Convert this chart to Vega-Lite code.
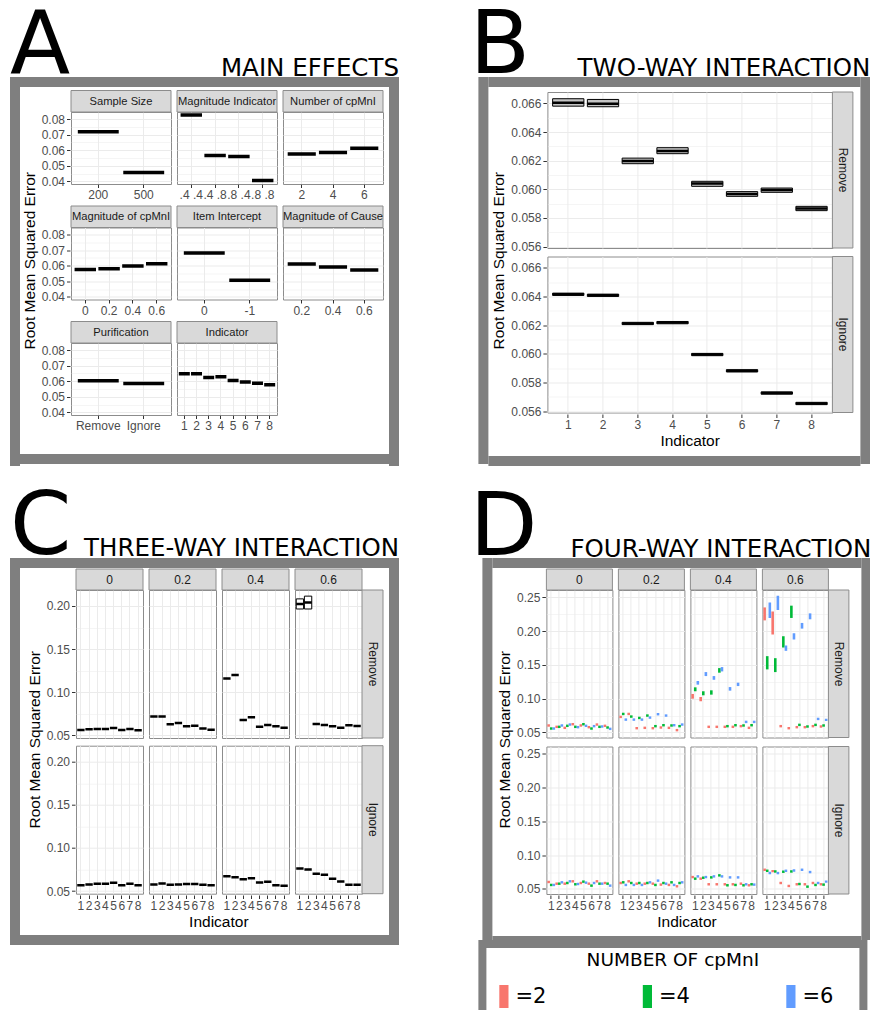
{
 "$schema": "https://vega.github.io/schema/vega-lite/v6.json",
 "background": "white",
 "padding": {"left": 10, "top": 2, "right": 0, "bottom": 0},
 "config": {
  "font": "Liberation Sans",
  "view": {"stroke": "#8c8c8c", "strokeWidth": 1},
  "axis": {"labelColor": "#4d4d4d", "labelFontSize": 12, "labelFont": "Liberation Sans", "tickColor": "#333333", "tickSize": 3.5, "tickWidth": 1, "domain": false, "gridColor": "#ebebeb", "gridWidth": 1, "labelPadding": 2},
  "text": {"font": "Liberation Sans"}
 },
 "datasets": {
  "A": [
   {"f":"Sample Size","lvl":"200","m":0.0718},
   {"f":"Sample Size","lvl":"500","m":0.0456},
   {"f":"Magnitude Indicator","lvl":".4 .4","m":0.0826},
   {"f":"Magnitude Indicator","lvl":".4 .8","m":0.0566},
   {"f":"Magnitude Indicator","lvl":".8 .4","m":0.0559},
   {"f":"Magnitude Indicator","lvl":".8 .8","m":0.0406},
   {"f":"Number of cpMnI","lvl":"2","m":0.0576},
   {"f":"Number of cpMnI","lvl":"4","m":0.0585},
   {"f":"Number of cpMnI","lvl":"6","m":0.0613},
   {"f":"Magnitude of cpMnI","lvl":"0","m":0.0576},
   {"f":"Magnitude of cpMnI","lvl":"0.2","m":0.0581},
   {"f":"Magnitude of cpMnI","lvl":"0.4","m":0.0598},
   {"f":"Magnitude of cpMnI","lvl":"0.6","m":0.0613},
   {"f":"Item Intercept","lvl":"0","m":0.0681},
   {"f":"Item Intercept","lvl":"-1","m":0.0507},
   {"f":"Magnitude of Cause","lvl":"0.2","m":0.0610},
   {"f":"Magnitude of Cause","lvl":"0.4","m":0.0591},
   {"f":"Magnitude of Cause","lvl":"0.6","m":0.0572},
   {"f":"Purification","lvl":"Remove","m":0.0602},
   {"f":"Purification","lvl":"Ignore","m":0.0585},
   {"f":"Indicator","lvl":"1","m":0.0648},
   {"f":"Indicator","lvl":"2","m":0.0648},
   {"f":"Indicator","lvl":"3","m":0.0624},
   {"f":"Indicator","lvl":"4","m":0.0629},
   {"f":"Indicator","lvl":"5","m":0.0605},
   {"f":"Indicator","lvl":"6","m":0.0594},
   {"f":"Indicator","lvl":"7","m":0.0587},
   {"f":"Indicator","lvl":"8","m":0.0577}
  ],
  "B": [
   {"p":"Remove","i":1,"m":0.06605,"lo":0.06581,"hi":0.06633},
   {"p":"Remove","i":2,"m":0.06598,"lo":0.06577,"hi":0.06628},
   {"p":"Remove","i":3,"m":0.06198,"lo":0.06179,"hi":0.06218},
   {"p":"Remove","i":4,"m":0.06267,"lo":0.06249,"hi":0.06291},
   {"p":"Remove","i":5,"m":0.0604,"lo":0.06021,"hi":0.06056},
   {"p":"Remove","i":6,"m":0.05967,"lo":0.05951,"hi":0.05984},
   {"p":"Remove","i":7,"m":0.05995,"lo":0.05979,"hi":0.06009},
   {"p":"Remove","i":8,"m":0.05866,"lo":0.05851,"hi":0.05881},
   {"p":"Ignore","i":1,"m":0.06416,"lo":0.06408,"hi":0.06424},
   {"p":"Ignore","i":2,"m":0.06409,"lo":0.06401,"hi":0.06417},
   {"p":"Ignore","i":3,"m":0.06212,"lo":0.06204,"hi":0.0622},
   {"p":"Ignore","i":4,"m":0.06218,"lo":0.0621,"hi":0.06226},
   {"p":"Ignore","i":5,"m":0.05995,"lo":0.05987,"hi":0.06003},
   {"p":"Ignore","i":6,"m":0.05881,"lo":0.05873,"hi":0.05889},
   {"p":"Ignore","i":7,"m":0.05726,"lo":0.05718,"hi":0.05734},
   {"p":"Ignore","i":8,"m":0.05653,"lo":0.05645,"hi":0.05661}
  ],
  "C": [
   {"c":"0","p":"Remove","i":1,"m":0.0562},{"c":"0","p":"Remove","i":2,"m":0.057},{"c":"0","p":"Remove","i":3,"m":0.0575},{"c":"0","p":"Remove","i":4,"m":0.0575},
   {"c":"0","p":"Remove","i":5,"m":0.0585},{"c":"0","p":"Remove","i":6,"m":0.0562},{"c":"0","p":"Remove","i":7,"m":0.0575},{"c":"0","p":"Remove","i":8,"m":0.056},
   {"c":"0.2","p":"Remove","i":1,"m":0.072},{"c":"0.2","p":"Remove","i":2,"m":0.072},{"c":"0.2","p":"Remove","i":3,"m":0.063},{"c":"0.2","p":"Remove","i":4,"m":0.0645},
   {"c":"0.2","p":"Remove","i":5,"m":0.0605},{"c":"0.2","p":"Remove","i":6,"m":0.0613},{"c":"0.2","p":"Remove","i":7,"m":0.058},{"c":"0.2","p":"Remove","i":8,"m":0.0565},
   {"c":"0.4","p":"Remove","i":1,"m":0.116},{"c":"0.4","p":"Remove","i":2,"m":0.12},{"c":"0.4","p":"Remove","i":3,"m":0.068},{"c":"0.4","p":"Remove","i":4,"m":0.071},
   {"c":"0.4","p":"Remove","i":5,"m":0.06},{"c":"0.4","p":"Remove","i":6,"m":0.062},{"c":"0.4","p":"Remove","i":7,"m":0.0605},{"c":"0.4","p":"Remove","i":8,"m":0.059},
   {"c":"0.6","p":"Remove","i":1,"m":0.2023,"lo":0.1965,"hi":0.2082},{"c":"0.6","p":"Remove","i":2,"m":0.2039,"lo":0.1965,"hi":0.2114},{"c":"0.6","p":"Remove","i":3,"m":0.0633},{"c":"0.6","p":"Remove","i":4,"m":0.062},
   {"c":"0.6","p":"Remove","i":5,"m":0.0605},{"c":"0.6","p":"Remove","i":6,"m":0.059},{"c":"0.6","p":"Remove","i":7,"m":0.0617},{"c":"0.6","p":"Remove","i":8,"m":0.061},
   {"c":"0","p":"Ignore","i":1,"m":0.0569},{"c":"0","p":"Ignore","i":2,"m":0.0577},{"c":"0","p":"Ignore","i":3,"m":0.0585},{"c":"0","p":"Ignore","i":4,"m":0.0585},
   {"c":"0","p":"Ignore","i":5,"m":0.0597},{"c":"0","p":"Ignore","i":6,"m":0.0569},{"c":"0","p":"Ignore","i":7,"m":0.0585},{"c":"0","p":"Ignore","i":8,"m":0.0569},
   {"c":"0.2","p":"Ignore","i":1,"m":0.0577},{"c":"0.2","p":"Ignore","i":2,"m":0.0589},{"c":"0.2","p":"Ignore","i":3,"m":0.0573},{"c":"0.2","p":"Ignore","i":4,"m":0.0577},
   {"c":"0.2","p":"Ignore","i":5,"m":0.0581},{"c":"0.2","p":"Ignore","i":6,"m":0.0581},{"c":"0.2","p":"Ignore","i":7,"m":0.0573},{"c":"0.2","p":"Ignore","i":8,"m":0.0569},
   {"c":"0.4","p":"Ignore","i":1,"m":0.0673},{"c":"0.4","p":"Ignore","i":2,"m":0.0662},{"c":"0.4","p":"Ignore","i":3,"m":0.0638},{"c":"0.4","p":"Ignore","i":4,"m":0.065},
   {"c":"0.4","p":"Ignore","i":5,"m":0.06},{"c":"0.4","p":"Ignore","i":6,"m":0.0608},{"c":"0.4","p":"Ignore","i":7,"m":0.0569},{"c":"0.4","p":"Ignore","i":8,"m":0.0562},
   {"c":"0.6","p":"Ignore","i":1,"m":0.0762},{"c":"0.6","p":"Ignore","i":2,"m":0.075},{"c":"0.6","p":"Ignore","i":3,"m":0.0701},{"c":"0.6","p":"Ignore","i":4,"m":0.0689},
   {"c":"0.6","p":"Ignore","i":5,"m":0.0643},{"c":"0.6","p":"Ignore","i":6,"m":0.0612},{"c":"0.6","p":"Ignore","i":7,"m":0.0574},{"c":"0.6","p":"Ignore","i":8,"m":0.0574}
  ],
  "D": [
   {"c":"0","p":"Remove","i":1,"n":"2","lo":0.0585,"hi":0.0621},{"c":"0","p":"Remove","i":1,"n":"4","lo":0.054,"hi":0.0576},{"c":"0","p":"Remove","i":1,"n":"6","lo":0.054,"hi":0.0576},
   {"c":"0","p":"Remove","i":2,"n":"2","lo":0.0565,"hi":0.0601},{"c":"0","p":"Remove","i":2,"n":"4","lo":0.0565,"hi":0.0601},{"c":"0","p":"Remove","i":2,"n":"6","lo":0.0585,"hi":0.0621},
   {"c":"0","p":"Remove","i":3,"n":"2","lo":0.055,"hi":0.0586},{"c":"0","p":"Remove","i":3,"n":"4","lo":0.058,"hi":0.0616},{"c":"0","p":"Remove","i":3,"n":"6","lo":0.0599,"hi":0.0635},
   {"c":"0","p":"Remove","i":4,"n":"2","lo":0.0604,"hi":0.064},{"c":"0","p":"Remove","i":4,"n":"4","lo":0.0565,"hi":0.0601},{"c":"0","p":"Remove","i":4,"n":"6","lo":0.056,"hi":0.0596},
   {"c":"0","p":"Remove","i":5,"n":"2","lo":0.0585,"hi":0.0621},{"c":"0","p":"Remove","i":5,"n":"4","lo":0.0604,"hi":0.064},{"c":"0","p":"Remove","i":5,"n":"6","lo":0.058,"hi":0.0616},
   {"c":"0","p":"Remove","i":6,"n":"2","lo":0.056,"hi":0.0596},{"c":"0","p":"Remove","i":6,"n":"4","lo":0.054,"hi":0.0576},{"c":"0","p":"Remove","i":6,"n":"6","lo":0.0575,"hi":0.0611},
   {"c":"0","p":"Remove","i":7,"n":"2","lo":0.0599,"hi":0.0635},{"c":"0","p":"Remove","i":7,"n":"4","lo":0.0565,"hi":0.0601},{"c":"0","p":"Remove","i":7,"n":"6","lo":0.057,"hi":0.0606},
   {"c":"0","p":"Remove","i":8,"n":"2","lo":0.058,"hi":0.0616},{"c":"0","p":"Remove","i":8,"n":"4","lo":0.0555,"hi":0.0591},{"c":"0","p":"Remove","i":8,"n":"6","lo":0.0535,"hi":0.0571},
   {"c":"0.2","p":"Remove","i":1,"n":"2","lo":0.0712,"hi":0.0748},{"c":"0.2","p":"Remove","i":1,"n":"4","lo":0.0756,"hi":0.0792},{"c":"0.2","p":"Remove","i":1,"n":"6","lo":0.0672,"hi":0.0708},
   {"c":"0.2","p":"Remove","i":2,"n":"2","lo":0.0756,"hi":0.0792},{"c":"0.2","p":"Remove","i":2,"n":"4","lo":0.0717,"hi":0.0753},{"c":"0.2","p":"Remove","i":2,"n":"6","lo":0.0672,"hi":0.0708},
   {"c":"0.2","p":"Remove","i":3,"n":"2","lo":0.0545,"hi":0.0581},{"c":"0.2","p":"Remove","i":3,"n":"4","lo":0.0697,"hi":0.0733},{"c":"0.2","p":"Remove","i":3,"n":"6","lo":0.0672,"hi":0.0708},
   {"c":"0.2","p":"Remove","i":4,"n":"2","lo":0.055,"hi":0.0586},{"c":"0.2","p":"Remove","i":4,"n":"4","lo":0.0732,"hi":0.0768},{"c":"0.2","p":"Remove","i":4,"n":"6","lo":0.0702,"hi":0.0738},
   {"c":"0.2","p":"Remove","i":5,"n":"2","lo":0.0545,"hi":0.0581},{"c":"0.2","p":"Remove","i":5,"n":"4","lo":0.0575,"hi":0.0611},{"c":"0.2","p":"Remove","i":5,"n":"6","lo":0.0752,"hi":0.0788},
   {"c":"0.2","p":"Remove","i":6,"n":"2","lo":0.0555,"hi":0.0591},{"c":"0.2","p":"Remove","i":6,"n":"4","lo":0.0589,"hi":0.0625},{"c":"0.2","p":"Remove","i":6,"n":"6","lo":0.0732,"hi":0.0768},
   {"c":"0.2","p":"Remove","i":7,"n":"2","lo":0.055,"hi":0.0586},{"c":"0.2","p":"Remove","i":7,"n":"4","lo":0.0585,"hi":0.0621},{"c":"0.2","p":"Remove","i":7,"n":"6","lo":0.0589,"hi":0.0625},
   {"c":"0.2","p":"Remove","i":8,"n":"2","lo":0.0516,"hi":0.0552},{"c":"0.2","p":"Remove","i":8,"n":"4","lo":0.0575,"hi":0.0611},{"c":"0.2","p":"Remove","i":8,"n":"6","lo":0.0599,"hi":0.0635},
   {"c":"0.4","p":"Remove","i":1,"n":"2","lo":0.1,"hi":0.107},{"c":"0.4","p":"Remove","i":1,"n":"4","lo":0.111,"hi":0.1168},{"c":"0.4","p":"Remove","i":1,"n":"6","lo":0.1208,"hi":0.1262},
   {"c":"0.4","p":"Remove","i":2,"n":"2","lo":0.0962,"hi":0.1025},{"c":"0.4","p":"Remove","i":2,"n":"4","lo":0.105,"hi":0.111},{"c":"0.4","p":"Remove","i":2,"n":"6","lo":0.1335,"hi":0.1394},
   {"c":"0.4","p":"Remove","i":3,"n":"2","lo":0.0565,"hi":0.0601},{"c":"0.4","p":"Remove","i":3,"n":"4","lo":0.106,"hi":0.1124},{"c":"0.4","p":"Remove","i":3,"n":"6","lo":0.128,"hi":0.1335},
   {"c":"0.4","p":"Remove","i":4,"n":"2","lo":0.0565,"hi":0.0601},{"c":"0.4","p":"Remove","i":4,"n":"4","lo":0.1385,"hi":0.1453},{"c":"0.4","p":"Remove","i":4,"n":"6","lo":0.1404,"hi":0.1468},
   {"c":"0.4","p":"Remove","i":5,"n":"2","lo":0.0565,"hi":0.0601},{"c":"0.4","p":"Remove","i":5,"n":"4","lo":0.0575,"hi":0.0611},{"c":"0.4","p":"Remove","i":5,"n":"6","lo":0.1119,"hi":0.1172},
   {"c":"0.4","p":"Remove","i":6,"n":"2","lo":0.0565,"hi":0.0601},{"c":"0.4","p":"Remove","i":6,"n":"4","lo":0.0589,"hi":0.0625},{"c":"0.4","p":"Remove","i":6,"n":"6","lo":0.1187,"hi":0.1237},
   {"c":"0.4","p":"Remove","i":7,"n":"2","lo":0.0575,"hi":0.0611},{"c":"0.4","p":"Remove","i":7,"n":"4","lo":0.0585,"hi":0.0621},{"c":"0.4","p":"Remove","i":7,"n":"6","lo":0.0638,"hi":0.0674},
   {"c":"0.4","p":"Remove","i":8,"n":"2","lo":0.055,"hi":0.0586},{"c":"0.4","p":"Remove","i":8,"n":"4","lo":0.0589,"hi":0.0625},{"c":"0.4","p":"Remove","i":8,"n":"6","lo":0.0638,"hi":0.0674},
   {"c":"0.6","p":"Remove","i":1,"n":"2","lo":0.216,"hi":0.2352},{"c":"0.6","p":"Remove","i":1,"n":"4","lo":0.1434,"hi":0.163},{"c":"0.6","p":"Remove","i":1,"n":"6","lo":0.2196,"hi":0.2426},
   {"c":"0.6","p":"Remove","i":2,"n":"2","lo":0.195,"hi":0.2293},{"c":"0.6","p":"Remove","i":2,"n":"4","lo":0.1394,"hi":0.16},{"c":"0.6","p":"Remove","i":2,"n":"6","lo":0.2314,"hi":0.2525},
   {"c":"0.6","p":"Remove","i":3,"n":"2","lo":0.0575,"hi":0.0611},{"c":"0.6","p":"Remove","i":3,"n":"4","lo":0.1758,"hi":0.1925},{"c":"0.6","p":"Remove","i":3,"n":"6","lo":0.1709,"hi":0.1788},
   {"c":"0.6","p":"Remove","i":4,"n":"2","lo":0.0545,"hi":0.0581},{"c":"0.6","p":"Remove","i":4,"n":"4","lo":0.2196,"hi":0.2378},{"c":"0.6","p":"Remove","i":4,"n":"6","lo":0.1876,"hi":0.1969},
   {"c":"0.6","p":"Remove","i":5,"n":"2","lo":0.056,"hi":0.0596},{"c":"0.6","p":"Remove","i":5,"n":"4","lo":0.0594,"hi":0.063},{"c":"0.6","p":"Remove","i":5,"n":"6","lo":0.2038,"hi":0.2122},
   {"c":"0.6","p":"Remove","i":6,"n":"2","lo":0.056,"hi":0.0596},{"c":"0.6","p":"Remove","i":6,"n":"4","lo":0.057,"hi":0.0606},{"c":"0.6","p":"Remove","i":6,"n":"6","lo":0.2176,"hi":0.2264},
   {"c":"0.6","p":"Remove","i":7,"n":"2","lo":0.0575,"hi":0.0611},{"c":"0.6","p":"Remove","i":7,"n":"4","lo":0.0594,"hi":0.063},{"c":"0.6","p":"Remove","i":7,"n":"6","lo":0.0682,"hi":0.0718},
   {"c":"0.6","p":"Remove","i":8,"n":"2","lo":0.057,"hi":0.0606},{"c":"0.6","p":"Remove","i":8,"n":"4","lo":0.0585,"hi":0.0621},{"c":"0.6","p":"Remove","i":8,"n":"6","lo":0.0668,"hi":0.0704},
   {"c":"0","p":"Ignore","i":1,"n":"2","lo":0.0585,"hi":0.0621},{"c":"0","p":"Ignore","i":1,"n":"4","lo":0.0541,"hi":0.0577},{"c":"0","p":"Ignore","i":1,"n":"6","lo":0.0541,"hi":0.0577},
   {"c":"0","p":"Ignore","i":2,"n":"2","lo":0.056,"hi":0.0596},{"c":"0","p":"Ignore","i":2,"n":"4","lo":0.056,"hi":0.0596},{"c":"0","p":"Ignore","i":2,"n":"6","lo":0.058,"hi":0.0616},
   {"c":"0","p":"Ignore","i":3,"n":"2","lo":0.056,"hi":0.0596},{"c":"0","p":"Ignore","i":3,"n":"4","lo":0.057,"hi":0.0606},{"c":"0","p":"Ignore","i":3,"n":"6","lo":0.0595,"hi":0.0631},
   {"c":"0","p":"Ignore","i":4,"n":"2","lo":0.0595,"hi":0.0631},{"c":"0","p":"Ignore","i":4,"n":"4","lo":0.0551,"hi":0.0587},{"c":"0","p":"Ignore","i":4,"n":"6","lo":0.0555,"hi":0.0591},
   {"c":"0","p":"Ignore","i":5,"n":"2","lo":0.057,"hi":0.0606},{"c":"0","p":"Ignore","i":5,"n":"4","lo":0.059,"hi":0.0626},{"c":"0","p":"Ignore","i":5,"n":"6","lo":0.0575,"hi":0.0611},
   {"c":"0","p":"Ignore","i":6,"n":"2","lo":0.056,"hi":0.0596},{"c":"0","p":"Ignore","i":6,"n":"4","lo":0.0531,"hi":0.0567},{"c":"0","p":"Ignore","i":6,"n":"6","lo":0.057,"hi":0.0606},
   {"c":"0","p":"Ignore","i":7,"n":"2","lo":0.0595,"hi":0.0631},{"c":"0","p":"Ignore","i":7,"n":"4","lo":0.056,"hi":0.0596},{"c":"0","p":"Ignore","i":7,"n":"6","lo":0.056,"hi":0.0596},
   {"c":"0","p":"Ignore","i":8,"n":"2","lo":0.057,"hi":0.0606},{"c":"0","p":"Ignore","i":8,"n":"4","lo":0.056,"hi":0.0596},{"c":"0","p":"Ignore","i":8,"n":"6","lo":0.0531,"hi":0.0567},
   {"c":"0.2","p":"Ignore","i":1,"n":"2","lo":0.057,"hi":0.0606},{"c":"0.2","p":"Ignore","i":1,"n":"4","lo":0.058,"hi":0.0616},{"c":"0.2","p":"Ignore","i":1,"n":"6","lo":0.0541,"hi":0.0577},
   {"c":"0.2","p":"Ignore","i":2,"n":"2","lo":0.0595,"hi":0.0631},{"c":"0.2","p":"Ignore","i":2,"n":"4","lo":0.057,"hi":0.0606},{"c":"0.2","p":"Ignore","i":2,"n":"6","lo":0.0541,"hi":0.0577},
   {"c":"0.2","p":"Ignore","i":3,"n":"2","lo":0.056,"hi":0.0596},{"c":"0.2","p":"Ignore","i":3,"n":"4","lo":0.057,"hi":0.0606},{"c":"0.2","p":"Ignore","i":3,"n":"6","lo":0.0541,"hi":0.0577},
   {"c":"0.2","p":"Ignore","i":4,"n":"2","lo":0.056,"hi":0.0596},{"c":"0.2","p":"Ignore","i":4,"n":"4","lo":0.057,"hi":0.0606},{"c":"0.2","p":"Ignore","i":4,"n":"6","lo":0.058,"hi":0.0616},
   {"c":"0.2","p":"Ignore","i":5,"n":"2","lo":0.056,"hi":0.0596},{"c":"0.2","p":"Ignore","i":5,"n":"4","lo":0.0541,"hi":0.0577},{"c":"0.2","p":"Ignore","i":5,"n":"6","lo":0.0605,"hi":0.0641},
   {"c":"0.2","p":"Ignore","i":6,"n":"2","lo":0.0546,"hi":0.0582},{"c":"0.2","p":"Ignore","i":6,"n":"4","lo":0.057,"hi":0.0606},{"c":"0.2","p":"Ignore","i":6,"n":"6","lo":0.056,"hi":0.0596},
   {"c":"0.2","p":"Ignore","i":7,"n":"2","lo":0.0541,"hi":0.0577},{"c":"0.2","p":"Ignore","i":7,"n":"4","lo":0.058,"hi":0.0616},{"c":"0.2","p":"Ignore","i":7,"n":"6","lo":0.0541,"hi":0.0577},
   {"c":"0.2","p":"Ignore","i":8,"n":"2","lo":0.0521,"hi":0.0557},{"c":"0.2","p":"Ignore","i":8,"n":"4","lo":0.057,"hi":0.0606},{"c":"0.2","p":"Ignore","i":8,"n":"6","lo":0.058,"hi":0.0616},
   {"c":"0.4","p":"Ignore","i":1,"n":"2","lo":0.0658,"hi":0.0694},{"c":"0.4","p":"Ignore","i":1,"n":"4","lo":0.0634,"hi":0.067},{"c":"0.4","p":"Ignore","i":1,"n":"6","lo":0.0668,"hi":0.0704},
   {"c":"0.4","p":"Ignore","i":2,"n":"2","lo":0.0634,"hi":0.067},{"c":"0.4","p":"Ignore","i":2,"n":"4","lo":0.0648,"hi":0.0684},{"c":"0.4","p":"Ignore","i":2,"n":"6","lo":0.0658,"hi":0.0694},
   {"c":"0.4","p":"Ignore","i":3,"n":"2","lo":0.0551,"hi":0.0587},{"c":"0.4","p":"Ignore","i":3,"n":"4","lo":0.0653,"hi":0.0689},{"c":"0.4","p":"Ignore","i":3,"n":"6","lo":0.0668,"hi":0.0704},
   {"c":"0.4","p":"Ignore","i":4,"n":"2","lo":0.0551,"hi":0.0587},{"c":"0.4","p":"Ignore","i":4,"n":"4","lo":0.0683,"hi":0.0719},{"c":"0.4","p":"Ignore","i":4,"n":"6","lo":0.0668,"hi":0.0704},
   {"c":"0.4","p":"Ignore","i":5,"n":"2","lo":0.0551,"hi":0.0587},{"c":"0.4","p":"Ignore","i":5,"n":"4","lo":0.0536,"hi":0.0572},{"c":"0.4","p":"Ignore","i":5,"n":"6","lo":0.0653,"hi":0.0689},
   {"c":"0.4","p":"Ignore","i":6,"n":"2","lo":0.0551,"hi":0.0587},{"c":"0.4","p":"Ignore","i":6,"n":"4","lo":0.0541,"hi":0.0577},{"c":"0.4","p":"Ignore","i":6,"n":"6","lo":0.0653,"hi":0.0689},
   {"c":"0.4","p":"Ignore","i":7,"n":"2","lo":0.056,"hi":0.0596},{"c":"0.4","p":"Ignore","i":7,"n":"4","lo":0.0536,"hi":0.0572},{"c":"0.4","p":"Ignore","i":7,"n":"6","lo":0.0551,"hi":0.0587},
   {"c":"0.4","p":"Ignore","i":8,"n":"2","lo":0.0536,"hi":0.0572},{"c":"0.4","p":"Ignore","i":8,"n":"4","lo":0.0551,"hi":0.0587},{"c":"0.4","p":"Ignore","i":8,"n":"6","lo":0.0546,"hi":0.0582},
   {"c":"0.6","p":"Ignore","i":1,"n":"2","lo":0.0766,"hi":0.0802},{"c":"0.6","p":"Ignore","i":1,"n":"4","lo":0.0751,"hi":0.0787},{"c":"0.6","p":"Ignore","i":1,"n":"6","lo":0.0717,"hi":0.0753},
   {"c":"0.6","p":"Ignore","i":2,"n":"2","lo":0.0746,"hi":0.0782},{"c":"0.6","p":"Ignore","i":2,"n":"4","lo":0.0741,"hi":0.0777},{"c":"0.6","p":"Ignore","i":2,"n":"6","lo":0.0717,"hi":0.0753},
   {"c":"0.6","p":"Ignore","i":3,"n":"2","lo":0.057,"hi":0.0606},{"c":"0.6","p":"Ignore","i":3,"n":"4","lo":0.0737,"hi":0.0773},{"c":"0.6","p":"Ignore","i":3,"n":"6","lo":0.0751,"hi":0.0787},
   {"c":"0.6","p":"Ignore","i":4,"n":"2","lo":0.0526,"hi":0.0562},{"c":"0.6","p":"Ignore","i":4,"n":"4","lo":0.0741,"hi":0.0777},{"c":"0.6","p":"Ignore","i":4,"n":"6","lo":0.0756,"hi":0.0792},
   {"c":"0.6","p":"Ignore","i":5,"n":"2","lo":0.0551,"hi":0.0587},{"c":"0.6","p":"Ignore","i":5,"n":"4","lo":0.0555,"hi":0.0591},{"c":"0.6","p":"Ignore","i":5,"n":"6","lo":0.0766,"hi":0.0802},
   {"c":"0.6","p":"Ignore","i":6,"n":"2","lo":0.0551,"hi":0.0587},{"c":"0.6","p":"Ignore","i":6,"n":"4","lo":0.0516,"hi":0.0552},{"c":"0.6","p":"Ignore","i":6,"n":"6","lo":0.0732,"hi":0.0768},
   {"c":"0.6","p":"Ignore","i":7,"n":"2","lo":0.057,"hi":0.0606},{"c":"0.6","p":"Ignore","i":7,"n":"4","lo":0.0541,"hi":0.0577},{"c":"0.6","p":"Ignore","i":7,"n":"6","lo":0.057,"hi":0.0606},
   {"c":"0.6","p":"Ignore","i":8,"n":"2","lo":0.0551,"hi":0.0587},{"c":"0.6","p":"Ignore","i":8,"n":"4","lo":0.0546,"hi":0.0582},{"c":"0.6","p":"Ignore","i":8,"n":"6","lo":0.059,"hi":0.0626}
  ],
  "L": [{"n":"2","lab":"=2"},{"n":"4","lab":"=4"},{"n":"6","lab":"=6"}]
 },
 "spacing": 17,
 "vconcat": [
  {"spacing": 70.4, "hconcat": [
   {"title": {"text": "A", "anchor": "start", "font": "DejaVu Sans", "fontSize": 88, "fontWeight": "normal", "color": "black", "offset": -35},
    "vconcat": [{
     "title": {"text": "MAIN EFFECTS", "anchor": "end", "font": "DejaVu Sans", "fontSize": 24.5, "fontWeight": "normal", "color": "black", "offset": -4},
     "spacing": 0,
     "hconcat": [
      {"width": 10, "height": 389, "data": {"values": []}, "mark": "rect", "encoding": {}, "view": {"fill": "#7f7f7f", "stroke": null}},
      {"spacing": 0, "vconcat": [
       {"width": 369, "height": 10, "data": {"values": []}, "mark": "rect", "encoding": {}, "view": {"fill": "#7f7f7f", "stroke": null}},
       {"width": 1, "height": 1.5, "data": {"values": []}, "mark": "rect", "encoding": {}, "view": {"stroke": null}},
       {"spacing": 0, "hconcat": [
        {"width": 2, "height": 1, "data": {"values": []}, "mark": "rect", "encoding": {}, "view": {"stroke": null}},
        {"title": {"text": "Root Mean Squared Error", "orient": "left", "anchor": "middle", "font": "Liberation Sans", "fontSize": 15.5, "fontWeight": "normal", "color": "black", "offset": 3},
         "vconcat": [{
          "data": {"name": "A"},
          "facet": {"field": "f", "type": "nominal", "sort": ["Sample Size","Magnitude Indicator","Number of cpMnI","Magnitude of cpMnI","Item Intercept","Magnitude of Cause","Purification","Indicator"], "header": {"title": null, "labels": false, "labelExpr": "''", "labelPadding": 0, "labelFontSize": 0.01}},
          "columns": 3,
          "spacing": {"row": 3.5, "column": 4},
          "resolve": {"scale": {"x": "independent"}},
          "spec": {
           "width": 100, "height": 72,
           "layer": [
            {"transform": [{"aggregate": [{"op": "count", "as": "cnt"}], "groupby": ["f"]}],
             "mark": {"type": "rect", "fill": "#d9d9d9", "stroke": "#8c8c8c", "strokeWidth": 1},
             "encoding": {"x": {"value": 0}, "x2": {"value": 100}, "y": {"value": -21.5}, "y2": {"value": 0}}},
            {"transform": [{"aggregate": [{"op": "count", "as": "cnt"}], "groupby": ["f"]}],
             "mark": {"type": "text", "fontSize": 11.2, "color": "#1a1a1a", "align": "center", "baseline": "middle"},
             "encoding": {"text": {"field": "f"}, "x": {"value": 50}, "y": {"value": -10.5}}},
            {"mark": {"type": "bar", "fill": "black", "stroke": "black", "strokeWidth": 3.5, "width": {"band": 0.9}},
             "encoding": {
              "x": {"field": "lvl", "type": "nominal", "sort": null, "scale": {"paddingInner": 0, "paddingOuter": 0.1}, "axis": {"title": null, "bandPosition": 0.5, "grid": true, "labelAngle": 0}},
              "y": {"field": "m", "type": "quantitative", "scale": {"domain": [0.0383, 0.0845], "nice": false, "zero": false},
                    "axis": {"title": null, "grid": true, "values": [0.04,0.045,0.05,0.055,0.06,0.065,0.07,0.075,0.08],
                             "labelExpr": "round(datum.value*1000) % 10 == 0 ? format(datum.value, '.2f') : ''",
                             "tickOpacity": {"condition": {"test": "round(datum.value*1000) % 10 != 0", "value": 0}, "value": 1},
                             "gridWidth": {"condition": {"test": "round(datum.value*1000) % 10 != 0", "value": 0.5}, "value": 1}}},
              "y2": {"field": "m"}}}
           ]
          }
         }]
        }
       ]},
       {"width": 1, "height": 22, "data": {"values": []}, "mark": "rect", "encoding": {}, "view": {"stroke": null}},
       {"width": 369, "height": 10, "data": {"values": []}, "mark": "rect", "encoding": {}, "view": {"fill": "#7f7f7f", "stroke": null}}
      ]},
      {"width": 10, "height": 389, "data": {"values": []}, "mark": "rect", "encoding": {}, "view": {"fill": "#7f7f7f", "stroke": null}}
     ]
    }]
   },
   {"title": {"text": "B", "anchor": "start", "font": "DejaVu Sans", "fontSize": 88, "fontWeight": "normal", "color": "black", "offset": -35, "dx": -8.6},
    "vconcat": [{
     "title": {"text": "TWO-WAY INTERACTION", "anchor": "end", "font": "DejaVu Sans", "fontSize": 24.5, "fontWeight": "normal", "color": "black", "offset": -4},
     "spacing": 0,
     "hconcat": [
      {"width": 10, "height": 387, "data": {"values": []}, "mark": "rect", "encoding": {}, "view": {"fill": "#7f7f7f", "stroke": null}},
      {"spacing": 0, "vconcat": [
       {"width": 372, "height": 10, "data": {"values": []}, "mark": "rect", "encoding": {}, "view": {"fill": "#7f7f7f", "stroke": null}},
       {"width": 1, "height": 3.2, "data": {"values": []}, "mark": "rect", "encoding": {}, "view": {"stroke": null}},
       {"spacing": 0, "hconcat": [
        {"width": 3, "height": 1, "data": {"values": []}, "mark": "rect", "encoding": {}, "view": {"stroke": null}},
        {"title": {"text": "Indicator", "orient": "bottom", "anchor": "middle", "font": "Liberation Sans", "fontSize": 15.5, "fontWeight": "normal", "color": "black", "offset": 3, "dx": 17},
         "vconcat": [{
          "title": {"text": "Root Mean Squared Error", "orient": "left", "anchor": "middle", "font": "Liberation Sans", "fontSize": 15.5, "fontWeight": "normal", "color": "black", "offset": 3},
          "vconcat": [{
           "data": {"name": "B"},
           "facet": {"row": {"field": "p", "type": "nominal", "sort": ["Remove", "Ignore"], "header": {"title": null, "labels": false, "labelExpr": "''", "labelPadding": 0, "labelFontSize": 0.01}}},
           "spacing": 6.5,
           "spec": {
            "width": 285, "height": 156,
            "layer": [
             {"transform": [{"aggregate": [{"op": "count", "as": "cnt"}], "groupby": ["p"]}],
              "mark": {"type": "rect", "fill": "#d9d9d9", "stroke": "#8c8c8c", "strokeWidth": 1},
              "encoding": {"x": {"value": 285}, "x2": {"value": 305.5}, "y": {"value": 0}, "y2": {"value": 156}}},
             {"transform": [{"aggregate": [{"op": "count", "as": "cnt"}], "groupby": ["p"]}],
              "mark": {"type": "text", "angle": 90, "fontSize": 12, "color": "#1a1a1a", "align": "center", "baseline": "middle"},
              "encoding": {"text": {"field": "p"}, "x": {"value": 295.5}, "y": {"value": 78}}},
             {"mark": {"type": "bar", "fill": "#c4c4c4", "stroke": "black", "strokeWidth": 1, "width": {"band": 0.9}},
              "encoding": {
               "x": {"field": "i", "type": "nominal", "scale": {"paddingInner": 0, "paddingOuter": 0.1}, "axis": {"title": null, "bandPosition": 0.5, "grid": true, "labelAngle": 0}},
               "y": {"field": "lo", "type": "quantitative", "scale": {"domain": [0.0559, 0.0668], "nice": false, "zero": false},
                     "axis": {"title": null, "grid": true, "values": [0.056,0.057,0.058,0.059,0.06,0.061,0.062,0.063,0.064,0.065,0.066],
                              "labelExpr": "round(datum.value*10000) % 20 == 0 ? format(datum.value, '.3f') : ''",
                              "tickOpacity": {"condition": {"test": "round(datum.value*10000) % 20 != 0", "value": 0}, "value": 1},
                              "gridWidth": {"condition": {"test": "round(datum.value*10000) % 20 != 0", "value": 0.5}, "value": 1}}},
               "y2": {"field": "hi"}}},
             {"mark": {"type": "bar", "fill": "black", "stroke": "black", "strokeWidth": 2.5, "width": {"band": 0.9}},
              "encoding": {
               "x": {"field": "i", "type": "nominal", "scale": {"paddingInner": 0, "paddingOuter": 0.1}, "axis": {"title": null, "bandPosition": 0.5, "grid": true, "labelAngle": 0}},
               "y": {"field": "m", "type": "quantitative",
                     "axis": {"title": null, "grid": true, "values": [0.056,0.057,0.058,0.059,0.06,0.061,0.062,0.063,0.064,0.065,0.066],
                              "labelExpr": "round(datum.value*10000) % 20 == 0 ? format(datum.value, '.3f') : ''",
                              "tickOpacity": {"condition": {"test": "round(datum.value*10000) % 20 != 0", "value": 0}, "value": 1},
                              "gridWidth": {"condition": {"test": "round(datum.value*10000) % 20 != 0", "value": 0.5}, "value": 1}}},
               "y2": {"field": "m"}}}
            ]
           }
          }]
         }]
        }
       ]},
       {"width": 1, "height": 6.8, "data": {"values": []}, "mark": "rect", "encoding": {}, "view": {"stroke": null}},
       {"width": 372, "height": 10, "data": {"values": []}, "mark": "rect", "encoding": {}, "view": {"fill": "#7f7f7f", "stroke": null}}
      ]},
      {"width": 10, "height": 387, "data": {"values": []}, "mark": "rect", "encoding": {}, "view": {"fill": "#7f7f7f", "stroke": null}}
     ]
    }]
   }
  ]},
  {"spacing": 70.4, "hconcat": [
   {"title": {"text": "C", "anchor": "start", "font": "DejaVu Sans", "fontSize": 88, "fontWeight": "normal", "color": "black", "offset": -36},
    "vconcat": [{
     "title": {"text": "THREE-WAY INTERACTION", "anchor": "end", "font": "DejaVu Sans", "fontSize": 24.5, "fontWeight": "normal", "color": "black", "offset": -3},
     "spacing": 0,
     "hconcat": [
      {"width": 10, "height": 387, "data": {"values": []}, "mark": "rect", "encoding": {}, "view": {"fill": "#7f7f7f", "stroke": null}},
      {"spacing": 0, "vconcat": [
       {"width": 369, "height": 10, "data": {"values": []}, "mark": "rect", "encoding": {}, "view": {"fill": "#7f7f7f", "stroke": null}},
       {"spacing": 0, "hconcat": [
        {"width": 7, "height": 1, "data": {"values": []}, "mark": "rect", "encoding": {}, "view": {"stroke": null}},
        {"title": {"text": "Indicator", "orient": "bottom", "anchor": "middle", "font": "Liberation Sans", "fontSize": 15.5, "fontWeight": "normal", "color": "black", "offset": 3, "dx": 13},
         "vconcat": [{
          "title": {"text": "Root Mean Squared Error", "orient": "left", "anchor": "middle", "font": "Liberation Sans", "fontSize": 15.5, "fontWeight": "normal", "color": "black", "offset": 3},
          "vconcat": [{
           "data": {"name": "C"},
           "facet": {
            "row": {"field": "p", "type": "nominal", "sort": ["Remove", "Ignore"], "header": {"title": null, "labels": false, "labelExpr": "''", "labelPadding": 0, "labelFontSize": 0.01}},
            "column": {"field": "c", "type": "nominal", "sort": ["0", "0.2", "0.4", "0.6"], "header": {"title": null, "labels": false, "labelExpr": "''", "labelPadding": 0, "labelFontSize": 0.01}}
           },
           "align": "each",
           "spacing": {"row": 5.7, "column": 4},
           "spec": {
            "width": 67, "height": 148,
            "layer": [
             {"transform": [{"filter": "datum.p == 'Remove'"}, {"aggregate": [{"op": "count", "as": "cnt"}], "groupby": ["c", "p"]}],
              "mark": {"type": "rect", "fill": "#d9d9d9", "stroke": "#8c8c8c", "strokeWidth": 1},
              "encoding": {"x": {"value": 0}, "x2": {"value": 67}, "y": {"value": -21}, "y2": {"value": 0}}},
             {"transform": [{"filter": "datum.p == 'Remove'"}, {"aggregate": [{"op": "count", "as": "cnt"}], "groupby": ["c", "p"]}],
              "mark": {"type": "text", "fontSize": 12, "color": "#1a1a1a", "align": "center", "baseline": "middle"},
              "encoding": {"text": {"field": "c"}, "x": {"value": 33.5}, "y": {"value": -10.5}}},
             {"transform": [{"filter": "datum.c == '0.6'"}, {"aggregate": [{"op": "count", "as": "cnt"}], "groupby": ["c", "p"]}],
              "mark": {"type": "rect", "fill": "#d9d9d9", "stroke": "#8c8c8c", "strokeWidth": 1},
              "encoding": {"x": {"value": 67}, "x2": {"value": 88}, "y": {"value": 0}, "y2": {"value": 148}}},
             {"transform": [{"filter": "datum.c == '0.6'"}, {"aggregate": [{"op": "count", "as": "cnt"}], "groupby": ["c", "p"]}],
              "mark": {"type": "text", "angle": 90, "fontSize": 12, "color": "#1a1a1a", "align": "center", "baseline": "middle"},
              "encoding": {"text": {"field": "p"}, "x": {"value": 77.5}, "y": {"value": 74}}},
             {"mark": {"type": "bar", "fill": "white", "stroke": "black", "strokeWidth": 1, "width": {"band": 0.9}},
              "encoding": {
               "x": {"field": "i", "type": "nominal", "scale": {"paddingInner": 0, "paddingOuter": 0.1}, "axis": {"title": null, "bandPosition": 0.5, "grid": true, "labelAngle": 0}},
               "y": {"field": "lo", "type": "quantitative", "scale": {"domain": [0.047, 0.2185], "nice": false, "zero": false},
                     "axis": {"title": null, "grid": true, "values": [0.05,0.075,0.1,0.125,0.15,0.175,0.2],
                              "labelExpr": "round(datum.value*1000) % 50 == 0 ? format(datum.value, '.2f') : ''",
                              "tickOpacity": {"condition": {"test": "round(datum.value*1000) % 50 != 0", "value": 0}, "value": 1},
                              "gridWidth": {"condition": {"test": "round(datum.value*1000) % 50 != 0", "value": 0.5}, "value": 1}}},
               "y2": {"field": "hi"}}},
             {"mark": {"type": "bar", "fill": "black", "stroke": "black", "strokeWidth": 2.5, "width": {"band": 0.9}},
              "encoding": {
               "x": {"field": "i", "type": "nominal", "scale": {"paddingInner": 0, "paddingOuter": 0.1}, "axis": {"title": null, "bandPosition": 0.5, "grid": true, "labelAngle": 0}},
               "y": {"field": "m", "type": "quantitative",
                     "axis": {"title": null, "grid": true, "values": [0.05,0.075,0.1,0.125,0.15,0.175,0.2],
                              "labelExpr": "round(datum.value*1000) % 50 == 0 ? format(datum.value, '.2f') : ''",
                              "tickOpacity": {"condition": {"test": "round(datum.value*1000) % 50 != 0", "value": 0}, "value": 1},
                              "gridWidth": {"condition": {"test": "round(datum.value*1000) % 50 != 0", "value": 0.5}, "value": 1}}},
               "y2": {"field": "m"}}}
            ]
           }
          }]
         }]
        }
       ]},
       {"width": 1, "height": 4.8, "data": {"values": []}, "mark": "rect", "encoding": {}, "view": {"stroke": null}},
       {"width": 369, "height": 10, "data": {"values": []}, "mark": "rect", "encoding": {}, "view": {"fill": "#7f7f7f", "stroke": null}}
      ]},
      {"width": 10, "height": 387, "data": {"values": []}, "mark": "rect", "encoding": {}, "view": {"fill": "#7f7f7f", "stroke": null}}
     ]
    }]
   },
   {"title": {"text": "D", "anchor": "start", "font": "DejaVu Sans", "fontSize": 88, "fontWeight": "normal", "color": "black", "offset": -36, "dx": -8.6},
    "vconcat": [{
     "title": {"text": "FOUR-WAY INTERACTION", "anchor": "end", "font": "DejaVu Sans", "fontSize": 24.5, "fontWeight": "normal", "color": "black", "offset": -4},
     "spacing": 0,
     "vconcat": [
      {"spacing": 0, "hconcat": [
       {"width": 10, "height": 382, "data": {"values": []}, "mark": "rect", "encoding": {}, "view": {"fill": "#7f7f7f", "stroke": null}},
       {"spacing": 0, "vconcat": [
        {"width": 369, "height": 10, "data": {"values": []}, "mark": "rect", "encoding": {}, "view": {"fill": "#7f7f7f", "stroke": null}},
        {"spacing": 0, "hconcat": [
         {"width": 5, "height": 1, "data": {"values": []}, "mark": "rect", "encoding": {}, "view": {"stroke": null}},
         {"title": {"text": "Indicator", "orient": "bottom", "anchor": "middle", "font": "Liberation Sans", "fontSize": 15.5, "fontWeight": "normal", "color": "black", "offset": 3, "dx": 13},
          "vconcat": [{
           "title": {"text": "Root Mean Squared Error", "orient": "left", "anchor": "middle", "font": "Liberation Sans", "fontSize": 15.5, "fontWeight": "normal", "color": "black", "offset": 3},
           "vconcat": [{
            "data": {"name": "D"},
            "facet": {
             "row": {"field": "p", "type": "nominal", "sort": ["Remove", "Ignore"], "header": {"title": null, "labels": false, "labelExpr": "''", "labelPadding": 0, "labelFontSize": 0.01}},
             "column": {"field": "c", "type": "nominal", "sort": ["0", "0.2", "0.4", "0.6"], "header": {"title": null, "labels": false, "labelExpr": "''", "labelPadding": 0, "labelFontSize": 0.01}}
            },
            "align": "each",
            "spacing": {"row": 6.5, "column": 4},
            "spec": {
             "width": 66, "height": 147.5,
             "layer": [
              {"transform": [{"filter": "datum.p == 'Remove'"}, {"aggregate": [{"op": "count", "as": "cnt"}], "groupby": ["c", "p"]}],
               "mark": {"type": "rect", "fill": "#d9d9d9", "stroke": "#8c8c8c", "strokeWidth": 1},
               "encoding": {"x": {"value": 0}, "x2": {"value": 66}, "y": {"value": -21}, "y2": {"value": 0}}},
              {"transform": [{"filter": "datum.p == 'Remove'"}, {"aggregate": [{"op": "count", "as": "cnt"}], "groupby": ["c", "p"]}],
               "mark": {"type": "text", "fontSize": 12, "color": "#1a1a1a", "align": "center", "baseline": "middle"},
               "encoding": {"text": {"field": "c"}, "x": {"value": 33}, "y": {"value": -10.5}}},
              {"transform": [{"filter": "datum.c == '0.6'"}, {"aggregate": [{"op": "count", "as": "cnt"}], "groupby": ["c", "p"]}],
               "mark": {"type": "rect", "fill": "#d9d9d9", "stroke": "#8c8c8c", "strokeWidth": 1},
               "encoding": {"x": {"value": 66}, "x2": {"value": 86.5}, "y": {"value": 0}, "y2": {"value": 147.5}}},
              {"transform": [{"filter": "datum.c == '0.6'"}, {"aggregate": [{"op": "count", "as": "cnt"}], "groupby": ["c", "p"]}],
               "mark": {"type": "text", "angle": 90, "fontSize": 12, "color": "#1a1a1a", "align": "center", "baseline": "middle"},
               "encoding": {"text": {"field": "p"}, "x": {"value": 76.5}, "y": {"value": 74}}},
              {"mark": {"type": "bar", "width": {"band": 1}},
               "encoding": {
                "x": {"field": "i", "type": "nominal", "scale": {"paddingInner": 0, "paddingOuter": 0.1}, "axis": {"title": null, "bandPosition": 0.5, "grid": true, "labelAngle": 0}},
                "xOffset": {"field": "n", "type": "nominal", "scale": {"paddingInner": 0, "paddingOuter": 0.05}},
                "y": {"field": "lo", "type": "quantitative", "scale": {"domain": [0.0425, 0.261], "nice": false, "zero": false},
                      "axis": {"title": null, "grid": true, "values": [0.05,0.075,0.1,0.125,0.15,0.175,0.2,0.225,0.25],
                               "labelExpr": "round(datum.value*1000) % 50 == 0 ? format(datum.value, '.2f') : ''",
                               "tickOpacity": {"condition": {"test": "round(datum.value*1000) % 50 != 0", "value": 0}, "value": 1},
                               "gridWidth": {"condition": {"test": "round(datum.value*1000) % 50 != 0", "value": 0.5}, "value": 1}}},
                "y2": {"field": "hi"},
                "color": {"field": "n", "type": "nominal", "scale": {"domain": ["2", "4", "6"], "range": ["#F8766D", "#00BA38", "#619CFF"]}, "legend": null}
               }}
             ]
            }
           }]
          }]
         }
        ]},
        {"width": 1, "height": 6, "data": {"values": []}, "mark": "rect", "encoding": {}, "view": {"stroke": null}},
        {"width": 369, "height": 4, "data": {"values": []}, "mark": "rect", "encoding": {}, "view": {"fill": "#7f7f7f", "stroke": null}}
       ]},
       {"width": 10, "height": 382, "data": {"values": []}, "mark": "rect", "encoding": {}, "view": {"fill": "#7f7f7f", "stroke": null}}
      ]},
      {"width": 381, "height": 105,
       "data": {"name": "L"},
       "view": {"stroke": "#7f7f7f", "strokeWidth": 8, "fill": "white"},
       "title": {"text": "NUMBER OF cpMnI", "anchor": "middle", "font": "DejaVu Sans", "fontSize": 18.5, "fontWeight": "normal", "color": "black", "offset": -25},
       "layer": [
        {"mark": {"type": "point", "shape": "M-0.4,-1H0.4V1H-0.4Z", "filled": true, "size": 529, "opacity": 1},
         "encoding": {
          "x": {"field": "n", "type": "nominal", "scale": {"type": "point", "padding": 0, "range": [21.5, 308.5]}, "axis": null},
          "color": {"field": "n", "type": "nominal", "scale": {"domain": ["2", "4", "6"], "range": ["#F8766D", "#00BA38", "#619CFF"]}, "legend": null}}},
        {"mark": {"type": "text", "align": "left", "dx": 11.5, "font": "DejaVu Sans", "fontSize": 21, "color": "black"},
         "encoding": {
          "x": {"field": "n", "type": "nominal", "scale": {"type": "point", "padding": 0, "range": [21.5, 308.5]}, "axis": null},
          "text": {"field": "lab"}}}
       ]}
     ]
    }]
   }
  ]}
 ]
}
